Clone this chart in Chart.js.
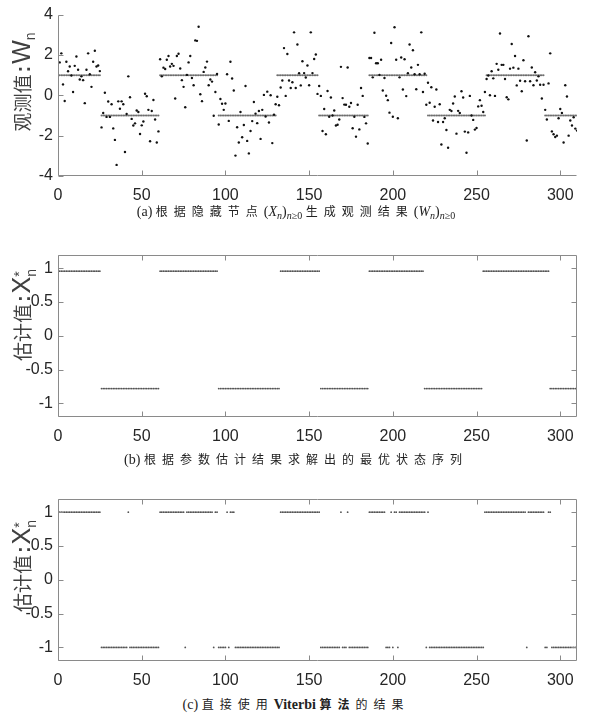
<!DOCTYPE html>
<html>
<head>
<meta charset="utf-8">
<script src="https://cdn.jsdelivr.net/npm/chart.js@4.4.0/dist/chart.umd.min.js"></script>
<style>
    body { margin: 0; background: #fff; width: 592px; height: 718px; position: relative; overflow: hidden; }
    canvas { position: absolute; left: 0; }
    .ylab { position: absolute; transform: translate(-50%, -50%) rotate(-90deg); white-space: nowrap;
        font-family: "Noto Sans CJK SC", sans-serif; font-size: 19px; color: #404040; line-height: 1; }
    .ylab .colon { font-family: "Liberation Sans", Arial, sans-serif; font-weight: bold; font-size: 20px; margin: 0 2px; }
    .ylab .big { font-family: "Liberation Sans", Arial, sans-serif; font-size: 25px; }
    .ylab sub { font-family: "Liberation Sans", Arial, sans-serif; font-size: 14px; vertical-align: -5px; }
    .ss { display: inline-block; vertical-align: middle; font-family: "Liberation Sans", Arial, sans-serif; font-size: 14px; line-height: 12px; }
    .ss span { display: block; }
    .cap { position: absolute; left: 0; width: 592px; text-align: center; font-family: "Liberation Serif", "Noto Sans CJK SC", serif;
        font-size: 14px; color: #222; line-height: 1; }
    .cap .cjk { font-family: "Noto Sans CJK SC", sans-serif; font-size: 12px; letter-spacing: 6px; }
    .cap sub { font-size: 10px; vertical-align: -3px; }
    .cap b { font-weight: bold; }
</style>
</head>
<body>
<canvas id="chartA" width="592" height="205" style="top:0px"></canvas>
<canvas id="chartB" width="592" height="205" style="top:240px"></canvas>
<canvas id="chartC" width="592" height="205" style="top:484px"></canvas>

<div class="ylab" style="left:23px;top:82px">观测值<span class="colon">:</span><span class="big">W</span><sub>n</sub></div>
<div class="ylab" style="left:23px;top:315px">估计值<span class="colon">:</span><span class="big">X</span><span class="ss"><span>*</span><span>n</span></span></div>
<div class="ylab" style="left:23px;top:566px">估计值<span class="colon">:</span><span class="big">X</span><span class="ss"><span>*</span><span>n</span></span></div>

<div class="cap" style="top:205px">(a) <span class="cjk">根据隐藏节点</span>(<i>X<sub>n</sub></i>)<sub><i>n</i>≥0</sub> <span class="cjk">生成观测结果</span>(<i>W<sub>n</sub></i>)<sub><i>n</i>≥0</sub></div>
<div class="cap" style="top:453px">(b) <span class="cjk">根据参数估计结果求解出的最优状态序列</span></div>
<div class="cap" style="top:698px">(c) <span class="cjk">直接使用</span><b>Viterbi</b> <span class="cjk"><b>算法</b>的结果</span></div>

<script>
// Observed values W_n, n = 1..310
const observed = [
    1.63, 2.08, 0.54, -0.28, 1.66, 1.19, 1.43, 0.98, 0.16, 1.46,
    1.92, 1.27, 0.78, 0.94, 0.75, -0.39, 1.27, 2.08, 1.04, 0.42,
    1.66, 2.21, 1.43, 1.48, 1.20,
    -1.59, -0.88, 0.13, -1.07, -0.31, -1.07, -0.44, -1.64, -2.21, -3.45,
    -0.30, -0.67, -0.30, -0.44, -2.81, -0.93, 0.94, -0.10, -1.17, -1.50,
    -1.39, -0.75, -0.83, -1.92, -1.49, -1.30, 0.08, -0.05, -0.72, -2.28,
    -0.78, -0.23, -1.20, -2.34, -1.79,
    1.79, 0.94, 1.37, 1.30, 1.76, 1.95, 1.43, 1.56, 1.46, -0.16,
    1.95, 2.06, 1.33, 0.75, 0.42, -0.59, 1.01, 1.63, 1.95, 0.86,
    0.50, 2.72, 2.70, 3.40, 0.05, -0.29, 1.16, 1.38, 1.67, 0.50,
    0.78, 0.68, -1.01, 0.16, 1.06,
    -1.45, -0.18, -0.42, -0.72, -0.41, 1.04, -1.27, 1.66, 0.83, 0.24,
    -2.99, -1.58, -2.34, -0.83, -2.08, -1.47, 0.46, -2.26, -2.88, -1.77,
    -1.28, -0.33, -0.91, -1.38, -0.78, -2.16, -0.72, 0.02, -1.05, 0.18,
    -1.35, 0.00, -2.37, -0.96, -0.44, -0.07,
    -0.49, 0.39, 0.73, 2.34, -0.03, 2.05, 0.73, 0.36, 0.65, 3.12,
    0.36, 2.52, 1.09, 0.49, 1.69, 1.10, 0.88, 1.48, 0.50, 3.12,
    1.10, 1.80, 2.02,
    0.07, 0.46, -0.03, -1.77, -0.68, -1.93, 0.21, -1.06, -0.11, -1.00,
    -0.75, -1.50, -1.46, -1.20, 1.41, -0.14, -0.46, -0.47, 1.38, -0.57,
    -0.38, -1.63, -1.06, -2.05, -0.47, -1.69, 0.36, -0.03, -1.07, -1.39,
    -2.39,
    1.85, 1.85, 0.89, 3.10, 1.59, 1.59, 1.01, 1.76, 0.24, 0.86,
    -0.02, -0.24, -0.86, 2.59, -1.06, 3.37, 1.76, -1.14, 0.89, 1.87,
    0.29, 1.79, -0.04, 1.09, 2.52, 1.38, 2.23, 1.04, 0.30, 1.51,
    1.04, 3.12, 0.16, 1.07, -0.47, 0.62, -0.37, 0.40, -1.25, -0.57,
    0.29, -1.32, -0.44, -2.44, -1.32, -1.14, -1.72,
    -2.60, -0.72, -0.78, -0.41, -0.06, -1.90, -0.77, -0.88, 0.20, -0.11,
    -1.80, -2.85, -1.84, -0.03, -1.00, -1.22, -1.70, -1.62, -0.55, -0.24,
    -0.52, -0.83, 0.16, 0.81, 0.98, 0.00, 1.19, 0.84, -0.03, 1.56,
    1.27, 3.06, 1.51, 1.51, 0.81, -0.10, -0.20, 1.32, 2.54, 1.37,
    1.95, 0.49, 1.32, 0.72, 0.20, 1.74, 0.70, -2.24, 2.93, 0.70,
    1.38, 0.50, 1.14, 0.73, 0.94, 0.52, -0.16, 0.52, -0.72, -1.20,
    0.59, 2.08, -1.79, -1.93, -2.07, -2.00, -1.14, -0.68, -0.88, -2.34,
    0.50, -0.06, -2.00, -1.25, -1.50, -1.09, -1.65, -1.75
];

// Hidden states X_n as [first n, last n, value]
const trueSegments = [
    [1, 25, 1], [26, 60, -1], [61, 95, 1], [96, 130, -1], [131, 155, 1],
    [156, 185, -1], [186, 220, 1], [221, 255, -1], [256, 290, 1], [291, 310, -1]
];

// Optimal state sequence from the estimated parameters
const estSegments = [
    [1, 25, 0.955], [26, 60, -0.78], [61, 95, 0.955], [96, 132, -0.78], [133, 156, 0.955],
    [157, 185, -0.78], [186, 218, 0.955], [219, 253, -0.78], [254, 293, 0.955], [294, 310, -0.78]
];

// Result of running Viterbi directly
const viterbiSegments = [
    [1, 25, 1], [26, 41, -1], [42, 42, 1], [43, 60, -1], [61, 75, 1], [76, 76, -1],
    [77, 92, 1], [93, 93, -1], [94, 95, 1], [96, 100, -1], [101, 101, 1], [102, 102, -1],
    [103, 105, 1], [106, 132, -1], [133, 156, 1], [157, 168, -1], [169, 169, 1],
    [170, 172, -1], [173, 173, 1], [174, 185, -1], [186, 195, 1], [196, 198, -1],
    [199, 199, 1], [200, 200, -1], [201, 202, 1], [203, 203, -1], [204, 219, 1],
    [220, 220, -1], [221, 221, 1], [222, 254, -1], [255, 279, 1], [280, 280, -1],
    [281, 290, 1], [291, 292, -1], [293, 294, 1], [295, 310, -1]
];

const xTicks = [0, 50, 100, 150, 200, 250, 300];
const yTicksA = [-4, -2, 0, 2, 4];
const yTicksB = [-1, -0.5, 0, 0.5, 1];

const axisColor = "#8a8a8a";
const labelColor = "#262626";
const tickFont = { family: "'Liberation Sans', Arial, sans-serif", size: 16 };

// Turn [first, last, value] runs into one point per n
function expand(segments) {
    const pts = [];
    segments.forEach(([a, b, v]) => {
        for (let n = a; n <= b; n++) pts.push({ x: n, y: v });
    });
    return pts;
}

// Axis lines, optional box and inward ticks (MATLAB look)
const frame = {
    id: "frame",
    afterDatasetsDraw(chart, args, opts) {
        const { ctx, chartArea: a, scales } = chart;
        const L = Math.round(a.left) + 0.5, R = Math.round(a.right) - 0.5;
        const T = Math.round(a.top) + 0.5, B = Math.round(a.bottom) - 0.5;
        const len = 5;
        ctx.save();
        ctx.strokeStyle = axisColor;
        ctx.lineWidth = 1;
        ctx.beginPath();
        ctx.moveTo(L, T); ctx.lineTo(L, B); ctx.lineTo(R, B);
        if (opts.box) { ctx.lineTo(R, T); ctx.lineTo(L, T); }
        scales.x.ticks.forEach(t => {
            const px = Math.round(scales.x.getPixelForValue(t.value)) + 0.5;
            ctx.moveTo(px, B); ctx.lineTo(px, B - len);
            if (opts.box) { ctx.moveTo(px, T); ctx.lineTo(px, T + len); }
        });
        scales.y.ticks.forEach(t => {
            const py = Math.round(scales.y.getPixelForValue(t.value)) + 0.5;
            ctx.moveTo(L, py); ctx.lineTo(L + len, py);
            if (opts.box) { ctx.moveTo(R, py); ctx.lineTo(R - len, py); }
        });
        ctx.stroke();
        ctx.restore();
    }
};

function makeChart(id, datasets, yMin, yMax, yTicks, box, padTop, xHeight) {
    return new Chart(document.getElementById(id), {
        type: "scatter",
        data: { datasets },
        options: {
            responsive: false,
            animation: false,
            events: [],
            layout: { padding: { top: padTop, right: 15, left: 0, bottom: 0 } },
            plugins: { legend: { display: false }, tooltip: { enabled: false }, frame: { box } },
            scales: {
                x: {
                    type: "linear", min: 0, max: 310,
                    grid: { display: false, drawTicks: false },
                    border: { display: false },
                    afterBuildTicks: s => { s.ticks = xTicks.map(v => ({ value: v })); },
                    afterFit: s => { s.height = xHeight; },
                    ticks: { font: tickFont, color: labelColor, padding: 10, maxRotation: 0, autoSkip: false,
                        callback: v => String(v) }
                },
                y: {
                    min: yMin, max: yMax,
                    grid: { display: false, drawTicks: false },
                    border: { display: false },
                    afterBuildTicks: s => { s.ticks = yTicks.map(v => ({ value: v })); },
                    afterFit: s => { s.width = 58; },
                    ticks: { font: tickFont, color: labelColor, padding: 5, autoSkip: false,
                        callback: v => String(v) }
                }
            }
        },
        plugins: [frame]
    });
}

// (a) observations with hidden state line
makeChart("chartA", [
    { data: observed.map((v, i) => ({ x: i + 1, y: v })), pointRadius: 1.2, backgroundColor: "#111", borderWidth: 0 },
    { data: expand(trueSegments), pointRadius: 1, backgroundColor: "#6e6e6e", borderWidth: 0 }
], -4, 4, yTicksA, false, 12, 29);

// (b) estimated optimal states
makeChart("chartB", [
    { data: expand(estSegments), pointRadius: 0.9, backgroundColor: "#555", borderWidth: 0 }
], -1.2, 1.2, yTicksB, true, 13, 28);

// (c) direct Viterbi
makeChart("chartC", [
    { data: expand(viterbiSegments), pointRadius: 0.9, backgroundColor: "#555", borderWidth: 0 }
], -1.2, 1.2, yTicksB, true, 13, 28);
</script>
</body>
</html>
